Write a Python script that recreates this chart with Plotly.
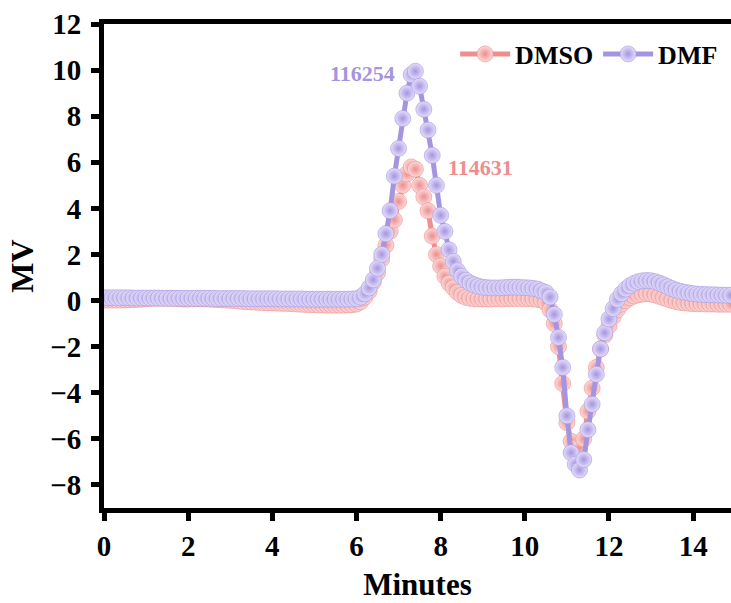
import plotly.graph_objects as go

# time grid (minutes), 0.1 min sampling
minutes = [round(i * 0.1, 1) for i in range(150)]

dmso = [
    0.02, 0.02, 0.02, 0.02, 0.02, 0.03, 0.03, 0.04, 0.05, 0.06,   # 0.0-0.9
    0.08, 0.09, 0.10, 0.10, 0.10, 0.10, 0.10, 0.09, 0.08, 0.06,   # 1.0-1.9
    0.06, 0.07, 0.08, 0.08, 0.07, 0.06, 0.05, 0.04, 0.03, 0.02,   # 2.0-2.9
    0.01, 0.00, -0.02, -0.04, -0.05, -0.06, -0.07, -0.08, -0.09, -0.10,  # 3.0-3.9
    -0.10, -0.11, -0.12, -0.12, -0.13, -0.14, -0.15, -0.16, -0.17, -0.18,  # 4.0-4.9
    -0.18, -0.19, -0.19, -0.20, -0.20, -0.20, -0.20, -0.20, -0.19, -0.18,  # 5.0-5.9
    -0.15, -0.05, 0.15, 0.40, 0.80, 1.20, 1.80, 2.40, 3.00, 3.50,  # 6.0-6.9
    4.30, 5.00, 5.50, 5.80, 5.70, 5.00, 4.50, 3.90, 2.80, 2.00,    # 7.0-7.9
    1.50, 1.05, 0.75, 0.55, 0.35, 0.22, 0.14, 0.10, 0.08, 0.07,    # 8.0-8.9
    0.07, 0.07, 0.07, 0.08, 0.08, 0.08, 0.09, 0.09, 0.09, 0.09,    # 9.0-9.9
    0.09, 0.08, 0.07, 0.05, 0.02, -0.10, -0.40, -1.00, -2.00, -3.60,  # 10.0-10.9
    -5.30, -6.10, -6.40, -6.40, -6.00, -4.80, -3.80, -2.90, -2.10, -1.50,  # 11.0-11.9
    -1.10, -0.70, -0.40, -0.15, 0.00, 0.12, 0.20, 0.25, 0.28, 0.30,  # 12.0-12.9
    0.28, 0.24, 0.18, 0.12, 0.06, 0.00, -0.05, -0.08, -0.10, -0.12,  # 13.0-13.9
    -0.13, -0.14, -0.14, -0.15, -0.15, -0.15, -0.16, -0.16, -0.16, -0.16,  # 14.0-14.9
]

dmf = [
    0.12, 0.12, 0.12, 0.12, 0.12, 0.12, 0.12, 0.11, 0.11, 0.11,   # 0.0-0.9
    0.11, 0.11, 0.11, 0.11, 0.10, 0.10, 0.10, 0.10, 0.10, 0.10,   # 1.0-1.9
    0.10, 0.10, 0.10, 0.10, 0.10, 0.10, 0.10, 0.09, 0.09, 0.09,   # 2.0-2.9
    0.09, 0.09, 0.09, 0.09, 0.08, 0.08, 0.08, 0.08, 0.08, 0.08,   # 3.0-3.9
    0.08, 0.08, 0.07, 0.07, 0.07, 0.07, 0.07, 0.07, 0.06, 0.06,   # 4.0-4.9
    0.06, 0.06, 0.06, 0.06, 0.06, 0.06, 0.06, 0.06, 0.06, 0.07,   # 5.0-5.9
    0.08, 0.15, 0.30, 0.55, 0.90, 1.40, 2.00, 2.90, 3.90, 5.40,   # 6.0-6.9
    6.60, 7.90, 9.00, 9.80, 9.95, 9.30, 8.30, 7.40, 6.30, 5.00,   # 7.0-7.9
    3.70, 3.00, 2.20, 1.70, 1.30, 1.05, 0.88, 0.76, 0.68, 0.62,   # 8.0-8.9
    0.58, 0.56, 0.55, 0.55, 0.55, 0.56, 0.57, 0.58, 0.58, 0.57,   # 9.0-9.9
    0.56, 0.55, 0.53, 0.50, 0.42, 0.35, 0.15, -0.60, -1.60, -2.90,  # 10.0-10.9
    -5.00, -6.60, -7.10, -7.35, -6.90, -5.60, -4.50, -3.20, -2.10, -1.40,  # 11.0-11.9
    -0.80, -0.35, 0.05, 0.30, 0.50, 0.65, 0.75, 0.82, 0.86, 0.87,  # 12.0-12.9
    0.86, 0.82, 0.76, 0.68, 0.60, 0.52, 0.45, 0.40, 0.36, 0.33,    # 13.0-13.9
    0.30, 0.28, 0.27, 0.26, 0.25, 0.25, 0.24, 0.24, 0.23, 0.23,    # 14.0-14.9
]

series_names = ["DMSO", "DMF"]
peak_labels = ["114631", "116254"]
x_ticks = [0, 2, 4, 6, 8, 10, 12, 14]
y_ticks = [-8, -6, -4, -2, 0, 2, 4, 6, 8, 10, 12]

RED = "#EE8E8E"
RED_LIGHT = "#FCDADA"
PURPLE = "#A595E0"
PURPLE_LIGHT = "#E4DEFA"
FONT = "Liberation Serif"

fig = go.Figure()
for name, vals, col, light in [
    (series_names[0], dmso, RED, RED_LIGHT),
    (series_names[1], dmf, PURPLE, PURPLE_LIGHT),
]:
    fig.add_trace(go.Scatter(
        x=minutes, y=vals, name=name, mode="lines+markers",
        line=dict(color=col, width=5),
        marker=dict(size=16, color=light, line=dict(width=0.6, color=col),
                    gradient=dict(type="radial", color=col)),
    ))

# peak labels
i_dmf = dmf.index(max(dmf))
i_dmso = dmso.index(max(dmso))
fig.add_annotation(x=minutes[i_dmf], y=dmf[i_dmf], text="<b>" + peak_labels[1] + "</b>",
                   showarrow=False, xanchor="right", yanchor="middle", xshift=-18, yshift=-2,
                   font=dict(family=FONT, size=22, color=PURPLE))
fig.add_annotation(x=minutes[i_dmso], y=dmso[i_dmso], text="<b>" + peak_labels[0] + "</b>",
                   showarrow=False, xanchor="left", yanchor="middle", xshift=35, yshift=-1,
                   font=dict(family=FONT, size=22, color=RED))

axis_common = dict(
    showgrid=False, zeroline=False,
    showline=True, linecolor="black", linewidth=5,
    ticks="outside", ticklen=8, tickwidth=5, tickcolor="black",
    tickfont=dict(family=FONT, size=29, color="black", weight="bold"),
)

fig.update_xaxes(range=[0, 14.9], tickvals=x_ticks, mirror=True, **axis_common,
                 title=dict(text="<b>Minutes</b>", standoff=14,
                            font=dict(family=FONT, size=31, color="black")))
fig.update_yaxes(range=[-9, 12], tickvals=y_ticks, mirror=False, **axis_common,
                 ticklabelstandoff=4,
                 title=dict(text="<b>MV</b>", standoff=8,
                            font=dict(family=FONT, size=32, color="black")))

fig.update_layout(
    width=731, height=603,
    margin=dict(l=104, r=0, t=24, b=95),
    paper_bgcolor="white", plot_bgcolor="white",
    showlegend=True,
    legend=dict(orientation="h", x=0.56, y=0.938, xanchor="left", yanchor="middle",
                font=dict(family=FONT, size=26, color="black", weight="bold"),
                bgcolor="rgba(0,0,0,0)", itemwidth=50, tracegroupgap=0),
)

fig.write_html("out.html", config={"displayModeBar": False},
               post_script="document.body.style.margin='0';document.body.style.overflow='hidden';")
